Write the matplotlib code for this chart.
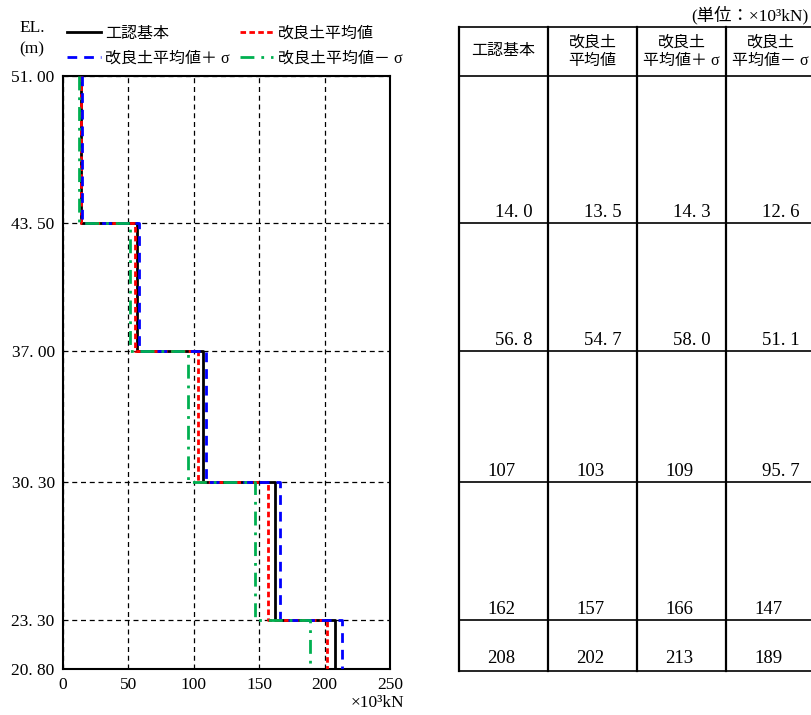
import matplotlib

matplotlib.use("Agg")
import matplotlib.pyplot as plt

plt.rcParams["font.family"] = ["Liberation Serif", "Noto Sans CJK JP", "DejaVu Sans"]

# elevation levels (top -> bottom) and axial force per layer (x10^3 kN)
levels = [51.00, 43.50, 37.00, 30.30, 23.30, 20.80]
level_labels = ["51. 00", "43. 50", "37. 00", "30. 30", "23. 30", "20. 80"]
base = [14.0, 56.8, 107, 162, 208]
mean = [13.5, 54.7, 103, 157, 202]
mean_plus = [14.3, 58.0, 109, 166, 213]
mean_minus = [12.6, 51.1, 95.7, 147, 189]
base_txt = ["14. 0", "56. 8", "107", "162", "208"]
mean_txt = ["13. 5", "54. 7", "103", "157", "202"]
plus_txt = ["14. 3", "58. 0", "109", "166", "213"]
minus_txt = ["12. 6", "51. 1", "95. 7", "147", "189"]
series_names = ["工認基本", "改良土平均値", "改良土平均値＋ σ", "改良土平均値－ σ"]
headers = ["工認基本", "改良土\n平均値", "改良土\n平均値＋ σ", "改良土\n平均値－ σ"]

W, H = 812, 715
fig = plt.figure(figsize=(W / 100, H / 100), dpi=100)


def box(l, t, r, b):
    return [l / W, 1 - b / H, (r - l) / W, (b - t) / H]


ax = fig.add_axes(box(63, 76, 390, 669))


def steps(vals):
    xs, ys = [], []
    for i, v in enumerate(vals):
        xs += [v, v]
        ys += [levels[i], levels[i + 1]]
    return xs, ys


styles = [
    dict(color="black", lw=2.0, ls="-"),
    dict(color="#ff0000", lw=2.0, ls=(0, (2, 1.2))),
    dict(color="#0000ff", lw=2.0, ls=(0, (3.5, 2.5))),
    dict(color="#00b050", lw=2.0, ls=(0, (5, 2.5, 1, 2.5))),
]
handles = []
for vals, st, name in zip([base, mean, mean_plus, mean_minus], styles, series_names):
    xs, ys = steps(vals)
    (h,) = ax.plot(xs, ys, label=name, zorder=3, **st)
    handles.append(h)

ax.set_xlim(0, 250)
ax.set_ylim(levels[-1], levels[0])
ax.set_xticks([0, 50, 100, 150, 200, 250])
ax.set_yticks(levels)
ax.set_yticklabels(level_labels)
ax.tick_params(length=0, labelsize=12.5, pad=6)
ax.grid(True, color="black", ls=(0, (4, 3)), lw=0.9)
for s in ax.spines.values():
    s.set_linewidth(1.5)

fig.text(404 / W, 1 - 703 / H, "×10³kN", ha="right", va="center", fontsize=12.5)
fig.text(32 / W, 1 - 28 / H, "EL.", ha="center", va="center", fontsize=12.5)
fig.text(32 / W, 1 - 49 / H, "(m)", ha="center", va="center", fontsize=12.5)

# column-wise fill: reorder so rows read base/mean, +σ/−σ
order = [0, 2, 1, 3]
fig.legend([handles[i] for i in order], [series_names[i] for i in order], ncol=2,
           loc="upper left", bbox_to_anchor=(67 / W, 1 - 26 / H), frameon=False,
           fontsize=11.5, handlelength=2.1, handletextpad=0.3, columnspacing=0.6,
           labelspacing=0.55, borderaxespad=0, borderpad=0)

# table, rows aligned with the elevation levels
tb = fig.add_axes(box(459, 76, 815, 669))
tb.set_xlim(0, 4)
tb.set_ylim(levels[-1], levels[0])
tb.axis("off")
top = levels[0] + 49 / 19.63
for c in range(5):
    tb.plot([c, c], [levels[-1] - 0.1, top], color="black", lw=1.6, clip_on=False)
for y in [top] + levels[:-1] + [levels[-1] - 0.1]:
    tb.plot([0, 4], [y, y], color="black", lw=1.2, clip_on=False)
for c, h in enumerate(headers):
    tb.text(c + 0.5, (levels[0] + top) / 2, h, ha="center", va="center",
            fontsize=11.5, linespacing=1.2, clip_on=False)
for c, col in enumerate([base_txt, mean_txt, plus_txt, minus_txt]):
    for r, t in enumerate(col):
        off = 36 if "." in t else 28
        tb.text(c + off / 89, levels[r + 1] + 0.1, t, ha="left", va="bottom",
                fontsize=13.5, clip_on=False)

fig.text(0.996, 1 - 15 / H, "(単位：×10³kN)", ha="right", va="center", fontsize=12.5)

fig.savefig("out.png", dpi=100)
